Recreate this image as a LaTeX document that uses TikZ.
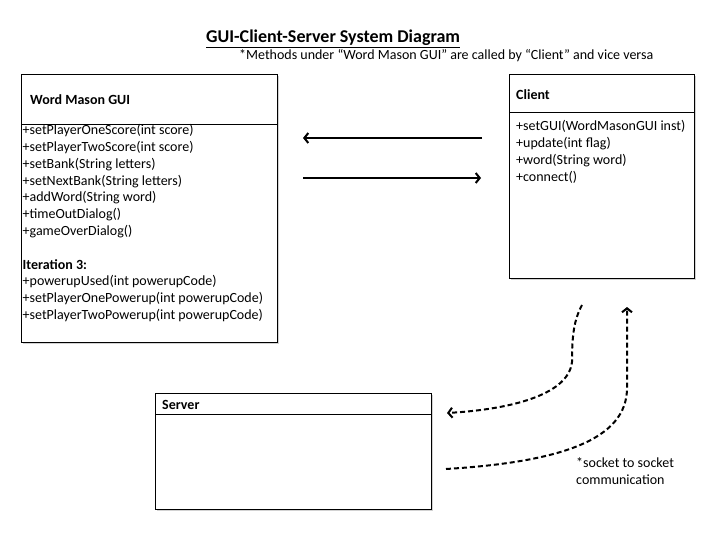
\documentclass[tikz,border=0pt]{standalone}
\usepackage{fontspec}
\setmainfont{Carlito}
\usetikzlibrary{arrows.meta,shadows}
\tikzset{
  classbox/.style={draw, line width=1pt, fill=white, inner sep=0pt,
    drop shadow={shadow xshift=1.5pt, shadow yshift=-1.5pt, opacity=0.35}},
  member/.style={anchor=base west, inner sep=0pt, font=\fontsize{14}{17}\selectfont},
  header/.style={member, font=\fontsize{14}{17}\selectfont\bfseries},
  callarrow/.style={line width=2pt, -{Straight Barb[length=4pt,width=10pt,line width=2pt]}},
  socketarrow/.style={callarrow, dashed, dash pattern=on 5pt off 3pt}
}
\begin{document}
\begin{tikzpicture}[x=1pt, y=-1pt]
    \fill [white] (0,0) rectangle (720,540) ;
    \useasboundingbox (0,0) rectangle (720,540) ;

    \node [anchor=base west, inner sep=0pt, font=\fontsize{18}{21}\selectfont\bfseries] (title) at (206,43) {\underline{GUI-Client-Server System Diagram}} ;
    \node [member] (note) at (239,60) {*Methods under “Word Mason GUI” are called by “Client” and vice versa} ;

    \node [classbox, minimum width=256pt, minimum height=267pt] (gui) at (149,208.5) {} ;
    \draw [line width=0.8pt] (21,124) -- (277,124) ;
    \node [header] (guiname) at (30,105) {Word Mason GUI} ;
    \foreach \t [count=\i from 0] in {+setPlayerOneScore(int score), +setPlayerTwoScore(int score),
        +setBank(String letters), +setNextBank(String letters), +addWord(String word),
        +timeOutDialog(), +gameOverDialog(), {}, \textbf{Iteration 3:},
        +powerupUsed(int powerupCode), +setPlayerOnePowerup(int powerupCode),
        +setPlayerTwoPowerup(int powerupCode)}
      \node [member] (gm\i) at (22.5,135+\i*16.75) {\t} ;

    \node [classbox, minimum width=185pt, minimum height=203pt] (client) at (601.5,176.5) {} ;
    \draw [line width=0.8pt] (509,112) -- (694,112) ;
    \node [header] (clientname) at (516,100) {Client} ;
    \foreach \t [count=\i from 0] in {+setGUI(WordMasonGUI inst), +update(int flag),
        +word(String word), +connect()}
      \node [member] (cm\i) at (516,131+\i*16.75) {\t} ;

    \node [classbox, minimum width=276pt, minimum height=116pt] (server) at (293,451) {} ;
    \draw [line width=0.8pt] (155,414) -- (431,414) ;
    \node [header] (servername) at (162,409) {Server} ;

    \coordinate (upS) at (482,138) ;
    \coordinate (upE) at (303,138) ;
    \coordinate (dnS) at (303,178) ;
    \coordinate (dnE) at (481,178) ;
    \draw [callarrow] (upS) -- (upE) ;
    \draw [callarrow] (dnS) -- (dnE) ;

    \coordinate (c2sS) at (582,305) ;
    \coordinate (c2sE) at (447,413) ;
    \coordinate (s2cS) at (446,469) ;
    \coordinate (s2cE) at (627,307) ;
    \draw [socketarrow] (c2sS) .. controls (574,320) and (572,335) .. (572,362)
        .. controls (568,398) and (500,410) .. (c2sE) ;
    \draw [socketarrow] (s2cS) .. controls (560,462) and (627,440) .. (627,388) -- (s2cE) ;

    \node [member] (sock1) at (576,467) {*socket to socket} ;
    \node [member] (sock2) at (576,484) {communication} ;
\end{tikzpicture}
\end{document}
